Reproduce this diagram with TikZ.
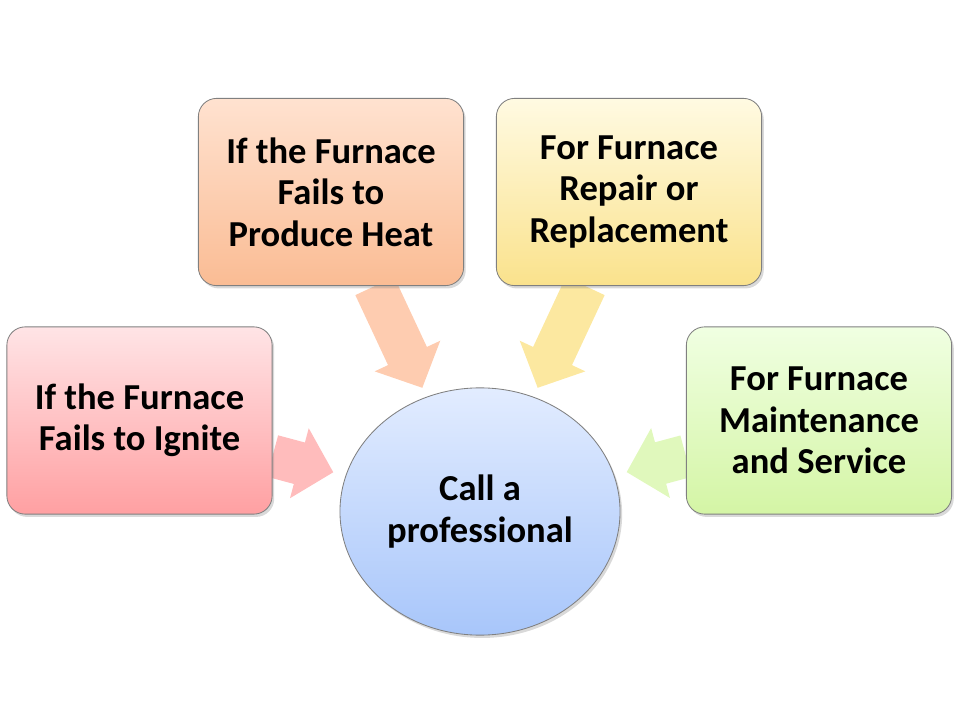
\documentclass[tikz,border=0pt]{standalone}
\usepackage{fontspec}
\setmainfont{Carlito}
\usepackage{xcolor}
\definecolor{ignitetop}{RGB}{255,228,230}
\definecolor{ignitebot}{RGB}{255,160,162}
\definecolor{heattop}{RGB}{255,226,208}
\definecolor{heatbot}{RGB}{250,188,148}
\definecolor{repairtop}{RGB}{255,250,226}
\definecolor{repairbot}{RGB}{250,226,140}
\definecolor{servicetop}{RGB}{240,255,226}
\definecolor{servicebot}{RGB}{212,245,165}
\definecolor{protop}{RGB}{226,236,255}
\definecolor{probot}{RGB}{168,198,250}
\definecolor{linkred}{RGB}{255,188,188}
\definecolor{linkorange}{RGB}{254,204,176}
\definecolor{linkyellow}{RGB}{252,232,160}
\definecolor{linkgreen}{RGB}{224,248,188}
\usepackage{tikz}
\usetikzlibrary{arrows.meta, backgrounds, shadows, shapes.geometric}

\begin{document}
\begin{tikzpicture}[
    x=0.025cm, y=-0.025cm,
    box/.style={rectangle, rounded corners=13pt, draw=gray, line width=0.6pt,
      minimum width=6.63cm, minimum height=4.68cm, align=center,
      font=\bfseries\fontsize{26}{29.5}\selectfont,
      drop shadow={opacity=0.3, shadow xshift=1.5pt, shadow yshift=-2pt}},
    hub/.style={ellipse, draw=gray, line width=0.6pt, inner sep=0pt,
      minimum width=7cm, minimum height=6.18cm, align=center,
      font=\bfseries\fontsize{26}{29.5}\selectfont,
      drop shadow={opacity=0.3, shadow xshift=1.5pt, shadow yshift=-2pt}},
    link/.style={line width=30.5pt, -{Triangle[length=25pt,width=50pt]}}
  ]
  \useasboundingbox (0,0) rectangle (960,720);
  \node[hub, top color=protop, bottom color=probot] (pro) at (480,511.5)
    {Call a\\professional};
  \node[box, top color=ignitetop, bottom color=ignitebot] (ignite) at (139.5,420.5)
    {If the Furnace\\Fails to Ignite};
  \node[box, top color=heattop, bottom color=heatbot] (heat) at (331,192)
    {If the Furnace\\Fails to\\Produce Heat};
  \node[box, top color=repairtop, bottom color=repairbot] (repair) at (629,192)
    {For Furnace\\Repair or\\Replacement};
  \node[box, top color=servicetop, bottom color=servicebot] (service) at (819,420.5)
    {For Furnace\\Maintenance\\and Service};
  \begin{scope}[on background layer]
    \path[link]
      (ignite) edge[draw=linkred, shorten >=9pt] (pro)
      (heat) edge[draw=linkorange, shorten >=7pt] (pro)
      (repair) edge[draw=linkyellow, shorten >=7pt] (pro)
      (service) edge[draw=linkgreen, shorten >=9pt] (pro)
      ;
  \end{scope}
\end{tikzpicture}
\end{document}
